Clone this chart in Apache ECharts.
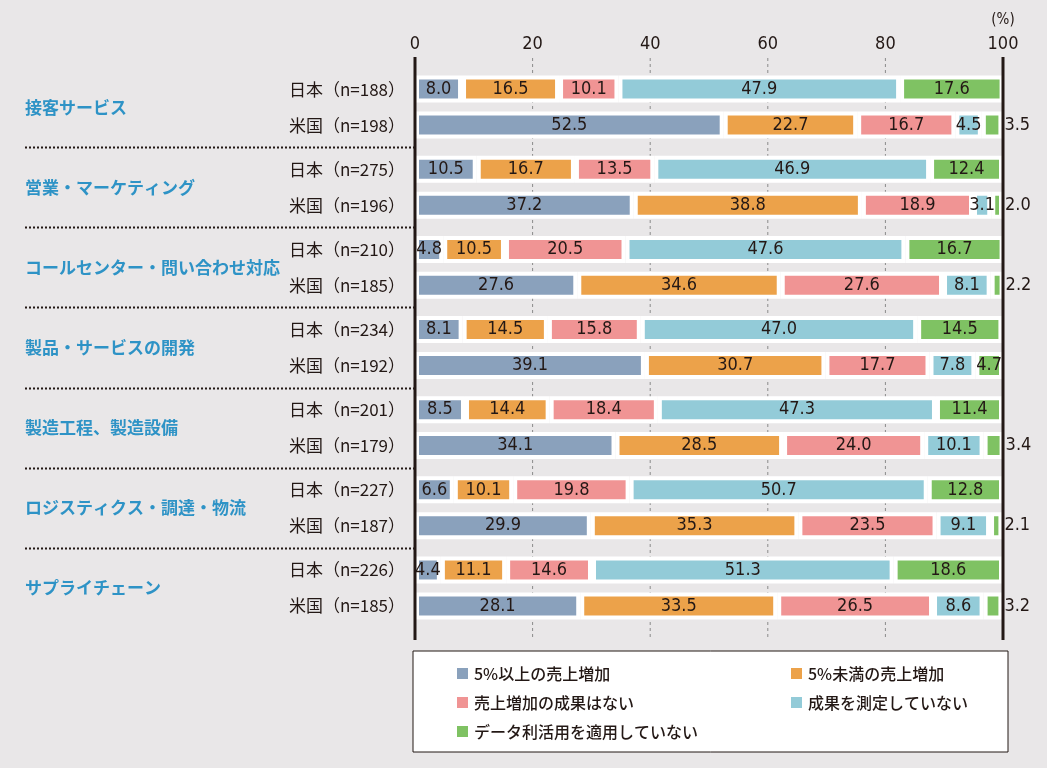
<!DOCTYPE html>
<html>
<head>
<meta charset="utf-8">
<script src="https://cdn.jsdelivr.net/npm/echarts@6/dist/echarts.min.js"></script>
<style>
  html, body { margin: 0; padding: 0; background: #e9e7e8; }
  #main { width: 1047px; height: 768px; }
</style>
</head>
<body>
<div id="main"></div>
<script>
// 分野
var groups = ['接客サービス', '営業・マーケティング', 'コールセンター・問い合わせ対応',
  '製品・サービスの開発', '製造工程、製造設備', 'ロジスティクス・調達・物流', 'サプライチェーン'];
var jpN = [188, 275, 210, 234, 201, 227, 226];
var usN = [198, 196, 185, 192, 179, 187, 185];

var seriesNames = ['5%以上の売上増加', '5%未満の売上増加', '売上増加の成果はない', '成果を測定していない', 'データ利活用を適用していない'];
var colors = ['#8aa1bc', '#eca24a', '#f09494', '#93cbd8', '#7fc263'];

// 日本
var jpUp5 = [8.0, 10.5, 4.8, 8.1, 8.5, 6.6, 4.4];
var jpUnder5 = [16.5, 16.7, 10.5, 14.5, 14.4, 10.1, 11.1];
var jpNone = [10.1, 13.5, 20.5, 15.8, 18.4, 19.8, 14.6];
var jpUnmeasured = [47.9, 46.9, 47.6, 47.0, 47.3, 50.7, 51.3];
var jpUnused = [17.6, 12.4, 16.7, 14.5, 11.4, 12.8, 18.6];
// 米国
var usUp5 = [52.5, 37.2, 27.6, 39.1, 34.1, 29.9, 28.1];
var usUnder5 = [22.7, 38.8, 34.6, 30.7, 28.5, 35.3, 33.5];
var usNone = [16.7, 18.9, 27.6, 17.7, 24.0, 23.5, 26.5];
var usUnmeasured = [4.5, 3.1, 8.1, 7.8, 10.1, 9.1, 8.6];
var usUnused = [3.5, 2.0, 2.2, 4.7, 3.4, 2.1, 3.2];

var xTicks = [0, 20, 40, 60, 80, 100];

var jpVals = [jpUp5, jpUnder5, jpNone, jpUnmeasured, jpUnused];
var usVals = [usUp5, usUnder5, usNone, usUnmeasured, usUnused];

var ink = '#231815';
var numFont = "'DejaVu Sans Condensed', 'Liberation Sans Narrow', 'Roboto Condensed', Roboto, sans-serif";
var jaFont = 'Noto Sans CJK JP';

function makeSeries(k, stack, vals) {
  var last = k === 4;
  return {
    name: seriesNames[k],
    type: 'bar',
    stack: stack,
    barWidth: 27,
    barGap: '33%',
    itemStyle: { color: colors[k], borderColor: '#fff', borderWidth: 4 },
    label: {
      show: true,
      position: 'inside',
      color: ink,
      fontFamily: numFont,
      fontSize: 18,
      formatter: function (p) { return p.value.toFixed(1); }
    },
    data: vals.map(function (v) {
      if (last && v < 4) {
        return { value: v, label: { position: 'right', distance: 2 } };
      }
      return v;
    })
  };
}

var series = [];
for (var k = 0; k < 5; k++) series.push(makeSeries(k, 'jp', jpVals[k]));
for (var k2 = 0; k2 < 5; k2++) series.push(makeSeries(k2, 'us', usVals[k2]));

var chart = echarts.init(document.getElementById('main'));
chart.setOption({
  backgroundColor: '#e9e7e8',
  animation: false,
  grid: { left: 415, right: 44, top: 67, bottom: 140 },
  xAxis: {
    type: 'value',
    position: 'top',
    min: 0, max: 100, interval: 20,
    axisLine: { show: false },
    axisTick: { show: false },
    splitLine: { show: false },
    axisLabel: { color: ink, fontFamily: numFont, fontSize: 18, margin: 14 }
  },
  yAxis: [{
    type: 'category',
    position: 'left',
    inverse: true,
    data: groups,
    axisLine: { show: false },
    axisTick: { show: false },
    axisLabel: {
      interval: 0,
      margin: 10,
      color: ink,
      fontFamily: jaFont,
      fontSize: 17,
      lineHeight: 36,
      formatter: function (v, i) {
        return '日本（n=' + jpN[i] + '）\n米国（n=' + usN[i] + '）';
      }
    }
  }, {
    type: 'category',
    position: 'left',
    offset: 0,
    inverse: true,
    data: groups,
    axisLine: { show: false },
    axisTick: { show: false },
    axisLabel: {
      interval: 0,
      align: 'left',
      margin: 390,
      color: '#2e93c6',
      fontFamily: jaFont,
      fontWeight: 'bold',
      fontSize: 17
    }
  }],
  legend: {
    data: seriesNames,
    left: 455,
    top: 664,
    width: 700,
    padding: 0,
    itemGap: 10,
    itemWidth: 13,
    itemHeight: 13,
    icon: 'rect',
    selectedMode: false,
    textStyle: { color: ink, fontFamily: jaFont, fontWeight: 500, fontSize: 16, width: 305, lineHeight: 19 }
  },
  series: series
});

// 罫線・枠などの装飾
var px = function (v) { return chart.convertToPixel({ xAxisIndex: 0 }, v); };
var py = function (i) { return chart.convertToPixel({ yAxisIndex: 0 }, groups[i]); };
var gx = [];
gx.push({
  type: 'rect', z: 0,
  shape: { x: 413, y: 651, width: 595, height: 101 },
  style: { fill: '#fff', stroke: ink, lineWidth: 1 }
});
xTicks.forEach(function (t) {
  var x = px(t);
  var edge = t === 0 || t === 100;
  gx.push({
    type: 'line', z: edge ? 100 : 0,
    shape: { x1: x, y1: edge ? 57 : 58, x2: x, y2: 640 },
    style: edge ? { stroke: ink, lineWidth: 3 } : { stroke: '#8a8a8a', lineWidth: 1, lineDash: [3, 3] }
  });
});
for (var i = 0; i < groups.length - 1; i++) {
  var y = Math.round((py(i) + py(i + 1)) / 2) + 0.5;
  gx.push({
    type: 'line', z: 0,
    shape: { x1: 25, y1: y, x2: 414, y2: y },
    style: { stroke: ink, lineWidth: 2, lineDash: [2, 2] }
  });
}
gx.push({
  type: 'text', z: 100,
  x: px(100), y: 20,
  style: { text: '(%)', fill: ink, font: '15px ' + numFont, align: 'center', verticalAlign: 'middle' }
});
chart.setOption({ graphic: gx });
</script>
</body>
</html>
